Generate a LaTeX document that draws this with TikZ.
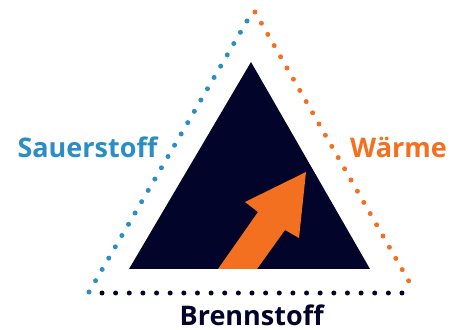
\documentclass[tikz,border=0pt]{standalone}
\usepackage{fontspec}
\setmainfont{Open Sans}
\definecolor{o2blue}{HTML}{2A8DC3}
\definecolor{heatorange}{HTML}{F37021}
\definecolor{fuelnavy}{HTML}{03042A}
\tikzset{
  dotline/.style={line width=5bp,line cap=round,dash pattern=on 0bp off #1},
  label/.style={anchor=base,inner sep=0pt,font=\bfseries\fontsize{27bp}{30bp}\selectfont},
}
\begin{document}
\begin{tikzpicture}[line join=bevel,]
\useasboundingbox (0bp,0bp) rectangle (459bp,330bp);
%%
\coordinate (o2_bot) at (89bp,38bp);
  \coordinate (o2_top) at (247bp,309bp);
  \coordinate (heat_top) at (255bp,318bp);
  \coordinate (heat_bot) at (415bp,38bp);
  \coordinate (fuel_left) at (102bp,37bp);
  \coordinate (fuel_right) at (402bp,37bp);
  \draw [o2blue,dotline=13.07bp] (o2_bot) -- (o2_top);
  \draw [heatorange,dotline=12.9bp] (heat_top) -- (heat_bot);
  \draw [fuelnavy,dotline=13.636bp] (fuel_left) -- (fuel_right);
%
\fill [fuelnavy] (129bp,61bp) -- (251bp,268bp) -- (370bp,61bp) -- cycle;
  \fill [heatorange] (306bp,158bp) -- (299bp,92bp) -- (285bp,100bp) -- (257bp,61bp)
    -- (218bp,61bp) -- (258bp,118bp) -- (245bp,128bp) -- cycle;
%
\node (node_o2) at (87.5bp,172.5bp) [label,text=o2blue] {Sauerstoff};
  \node (node_heat) at (398.5bp,172.5bp) [label,text=heatorange] {Wärme};
  \node (node_fuel) at (251.7bp,5bp) [label,text=fuelnavy] {Brennstoff};
%
\end{tikzpicture}
\end{document}
